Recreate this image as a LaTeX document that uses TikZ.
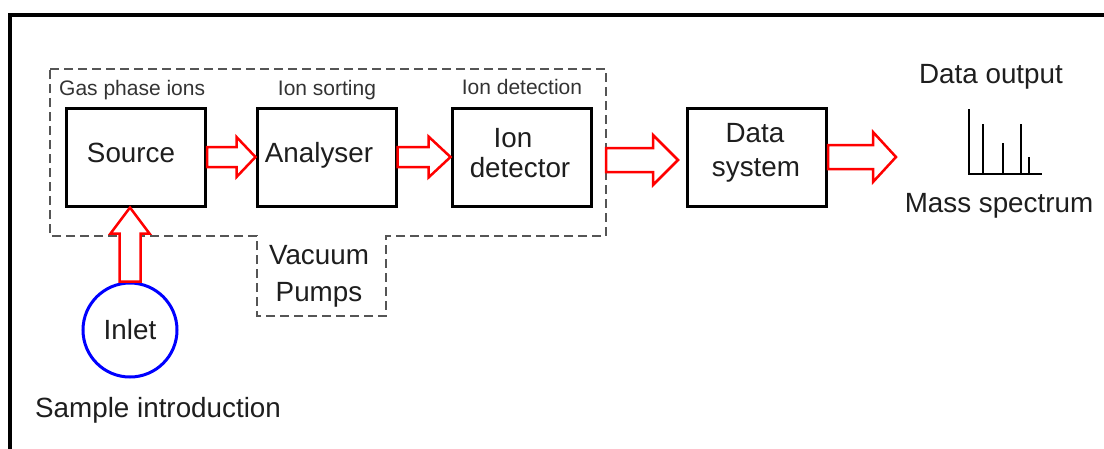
\documentclass[tikz,border=0pt]{standalone}
\usepackage{fontspec}
\setmainfont{Liberation Sans}
\usetikzlibrary{calc}

\definecolor{txt}{HTML}{1E1E1E}
\definecolor{smalltxt}{HTML}{333333}
\definecolor{dashgray}{HTML}{555555}
\definecolor{flowred}{HTML}{FF0000}
\definecolor{inletblue}{HTML}{0000FF}

\tikzset{
  stagebox/.style={draw=black, line width=3pt, minimum width=139pt, minimum height=98pt, inner sep=0pt},
  mainlbl/.style={text=txt, inner sep=0pt, anchor=base, font=\fontsize{27.8}{32}\selectfont},
  steplbl/.style={text=smalltxt, inner sep=0pt, anchor=base, font=\fontsize{21}{25}\selectfont},
  vacline/.style={draw=dashgray, line width=1.5pt, dash pattern=on 9pt off 5pt},
  blockarrow/.style={draw=flowred, fill=white, line width=2.5pt, line join=miter},
}

% horizontal block arrow: start, tip, half shaft, half head, head length
\newcommand\blockR[5]{%
  \draw[blockarrow] let \p1=(#1), \p2=(#2) in
    (\x1,\y1+#3) -- (\x2-#5,\y1+#3) -- (\x2-#5,\y1+#4) -- (\x2,\y1)
    -- (\x2-#5,\y1-#4) -- (\x2-#5,\y1-#3) -- (\x1,\y1-#3) -- cycle;}
% upward block arrow: start, tip, half shaft, half head, head length
\newcommand\blockU[5]{%
  \draw[blockarrow] let \p1=(#1), \p2=(#2) in
    (\x1-#3,\y1) -- (\x1-#3,\y2-#5) -- (\x1-#4,\y2-#5) -- (\x1,\y2)
    -- (\x1+#4,\y2-#5) -- (\x1+#3,\y2-#5) -- (\x1+#3,\y1) -- cycle;}

\begin{document}
\begin{tikzpicture}[x=1pt,y=-1pt]
\useasboundingbox (0,0) rectangle (1104,448);
\clip (0,0) rectangle (1104,448);
\fill[white] (0,0) rectangle (1104,448);

% frame
\draw[line width=4pt] (10,15) rectangle (1150,490);

% vacuum enclosure with pump outlet
\draw[vacline] (50,69) -- (606,69) -- (606,236) -- (386,236) -- (386,316)
  -- (257,316) -- (257,236) -- (50,236) -- cycle;

% stages
\node[stagebox] (src) at (136,157) {};
\node[stagebox] (ana) at (326.5,157) {};
\node[stagebox] (det) at (521.5,157) {};
\node[stagebox] (ds)  at (757,157) {};

\node[mainlbl] (srcLbl) at (131,162) {Source};
\node[mainlbl] (anaLbl) at (319,162) {Analyser};
\node[mainlbl] (detLblA) at (513,147) {Ion};
\node[mainlbl] (detLblB) at (520,177) {detector};
\node[mainlbl] (dsLblA) at (755,142) {Data};
\node[mainlbl] (dsLblB) at (756,176) {system};

\node[steplbl, anchor=base west] (gasLbl) at (59,95) {Gas phase ions};
\node[steplbl] (sortLbl) at (327,95) {Ion sorting};
\node[steplbl] (detectLbl) at (522,94) {Ion detection};

\node[mainlbl] (vacLblA) at (319,264) {Vacuum};
\node[mainlbl] (vacLblB) at (319,301) {Pumps};

% inlet
\node[circle, draw=inletblue, line width=3pt, minimum size=94pt, inner sep=0pt,
      text=txt, font=\fontsize{27.8}{32}\selectfont] (inlet) at (130,330) {Inlet};
\node[mainlbl, anchor=base west] (sampleLbl) at (35,417) {Sample introduction};

% output
\node[mainlbl] (outLbl) at (991,83) {Data output};
\node[mainlbl] (specLbl) at (999,212) {Mass spectrum};
\draw[line width=2pt, black] (969,109) -- (969,174) -- (1042,174);
\draw[line width=1.2pt, black] (983,174) -- (983,124) (1003,174) -- (1003,143)
  (1021,174) -- (1021,124) (1029,174) -- (1029,157);

% flow arrows
\coordinate (encOut) at (606,160);
\coordinate (dsIn) at (678,160);
\coordinate (outTip) at (896,157);
\blockR{src.east}{ana.west}{10pt}{20pt}{19pt}
\blockR{ana.east}{det.west}{10pt}{20.5pt}{22pt}
\blockR{encOut}{dsIn}{12pt}{25pt}{25pt}
\blockR{ds.east}{outTip}{12pt}{25pt}{23pt}
\blockU{inlet.north}{src.south}{10.5pt}{19.5pt}{26pt}
\end{tikzpicture}
\end{document}
